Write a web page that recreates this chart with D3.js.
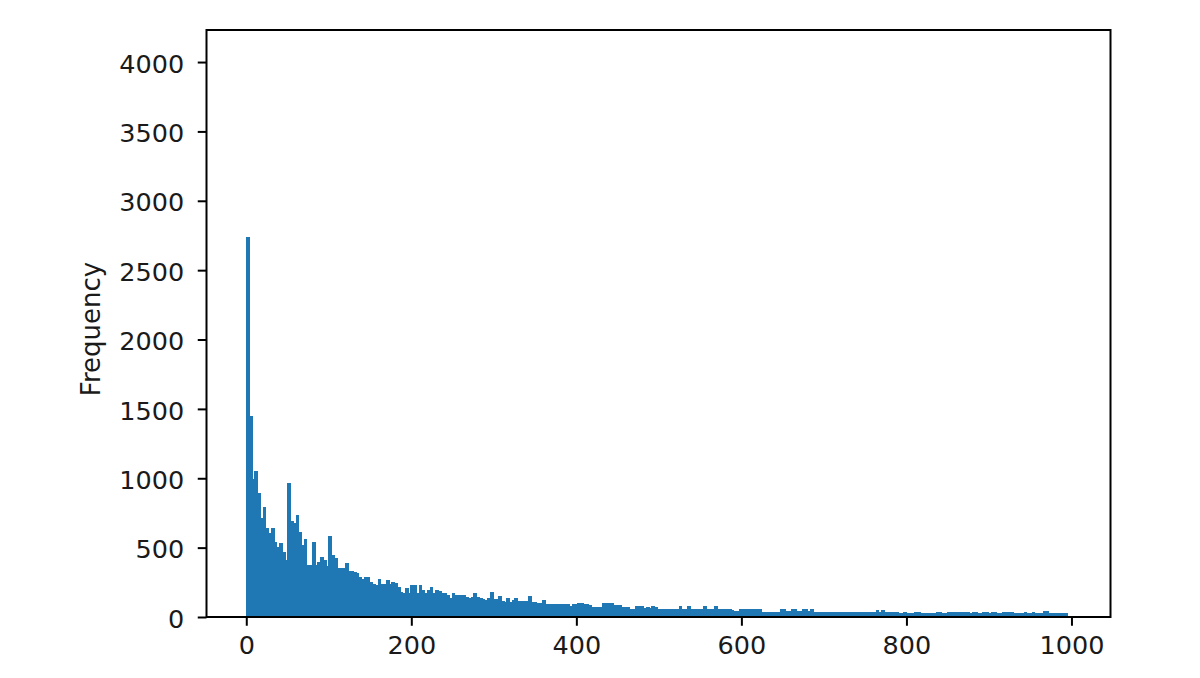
<!DOCTYPE html>
<html>
<head>
<meta charset="utf-8">
<script src="https://d3js.org/d3.v7.min.js"></script>
<style>
  html, body { margin: 0; padding: 0; background: white; }
</style>
</head>
<body>
<div id="vis"></div>
<script>
// histogram: 300 equal bins between binLow and binHigh, counts
let binCount = 300
let binLow = 0
let binHigh = 995

let counts = [
  2740, 1450, 995, 1052, 891, 711, 795, 644, 603, 639,
  543, 507, 531, 471, 411, 965, 694, 680, 735, 615,
  520, 560, 375, 375, 543, 375, 400, 430, 411, 370,
  583, 447, 423, 351, 351, 351, 391, 334, 334, 326,
  315, 290, 272, 290, 290, 255, 240, 231, 272, 238,
  238, 267, 238, 255, 247, 219, 183, 171, 207, 176,
  231, 231, 176, 231, 195, 176, 195, 219, 171, 195,
  190, 176, 176, 159, 135, 176, 159, 159, 159, 159,
  147, 135, 147, 176, 142, 139, 130, 123, 135, 183,
  127, 127, 154, 115, 106, 135, 110, 125, 135, 118,
  118, 118, 118, 151, 110, 110, 103, 103, 123, 94,
  94, 94, 94, 94, 94, 94, 91, 91, 76, 94,
  94, 98, 98, 94, 94, 86, 75, 75, 75, 75,
  98, 98, 98, 98, 88, 84, 84, 74, 72, 72,
  55, 55, 80, 80, 80, 65, 75, 65, 80, 75,
  60, 60, 60, 60, 60, 60, 60, 60, 80, 60,
  60, 78, 60, 60, 60, 60, 60, 80, 60, 60,
  60, 80, 60, 58, 56, 56, 56, 50, 40, 40,
  56, 56, 56, 56, 56, 56, 56, 56, 38, 38,
  38, 38, 38, 38, 38, 56, 56, 45, 45, 56,
  56, 45, 45, 56, 56, 45, 56, 36, 36, 36,
  36, 36, 36, 36, 36, 36, 36, 36, 36, 36,
  36, 36, 36, 36, 36, 36, 36, 36, 36, 36,
  54, 36, 54, 34, 34, 34, 34, 34, 31, 31,
  38, 31, 31, 31, 38, 38, 31, 31, 31, 31,
  31, 31, 38, 38, 31, 31, 38, 38, 38, 38,
  38, 38, 38, 38, 31, 38, 38, 31, 31, 38,
  38, 31, 38, 38, 31, 31, 38, 38, 38, 38,
  31, 31, 31, 31, 38, 31, 31, 38, 31, 31,
  31, 43, 43, 26, 26, 26, 26, 26, 26, 26
]

let xTicks = [0, 200, 400, 600, 800, 1000]
let yTicks = [0, 500, 1000, 1500, 2000, 2500, 3000, 3500, 4000]
let yLabel = 'Frequency'

let margin = {
  top: 30,
  left: 206.5,
  right: 89.5,
  bottom: 61
},
width = 1200 - margin.left - margin.right,
height = 678 - margin.top - margin.bottom;

let svg = d3.select('#vis')
.append('svg')
  .attr('width', 1200)
  .attr('height', 678)
  .style('background-color', 'white')
  .style('display', 'block')

let g = svg.append('g')
  .attr('transform', `translate(${margin.left},${margin.top})`)

let x = d3.scaleLinear().domain([-48.2, 1047.3]).range([0, width])
let y = d3.scaleLinear().domain([0, 4231]).range([height, 0])

let binWidth = (binHigh - binLow) / binCount
function edge(i) { return binLow + i * binWidth }

// bars, each drawn a little wider so neighbours don't leave white seams
g.selectAll('rect.bar')
  .data(counts)
  .join('rect')
  .attr('class', 'bar')
  .attr('x', (d, i) => x(edge(i)))
  .attr('y', d => y(d))
  .attr('width', (d, i) => x(edge(i + 1)) - x(edge(i)) + 1)
  .attr('height', d => y(0) - y(d))
  .attr('fill', '#1f77b4')
  .attr('shape-rendering', 'crispEdges')

// frame
g.append('rect')
  .attr('x', 0)
  .attr('y', 0)
  .attr('width', width)
  .attr('height', height)
  .attr('fill', 'none')
  .attr('stroke', 'black')
  .attr('stroke-width', 2)

let xAxis = g.append('g')
  .attr('transform', `translate(0,${height})`)
  .call(d3.axisBottom(x).tickValues(xTicks).tickFormat(d3.format('d'))
    .tickSize(8.75).tickPadding(10.5).tickSizeOuter(0))

let yAxis = g.append('g')
  .call(d3.axisLeft(y).tickValues(yTicks).tickFormat(d3.format('d'))
    .tickSize(8.75).tickPadding(13.5).tickSizeOuter(0))

for (let ax of [xAxis, yAxis]) {
  ax.select('.domain').remove()
  ax.selectAll('line').attr('stroke', 'black').attr('stroke-width', 2)
  ax.selectAll('text')
    .attr('fill', '#1a1a1a')
    .style('font-family', '"DejaVu Sans", sans-serif')
    .style('font-size', '25.5px')
}
yAxis.selectAll('text').attr('dy', '0.4em')

svg.append('text')
  .attr('transform', 'translate(100,329) rotate(-90)')
  .attr('text-anchor', 'middle')
  .attr('fill', '#1a1a1a')
  .style('font-family', '"DejaVu Sans", sans-serif')
  .style('font-size', '26px')
  .text(yLabel)
</script>
</body>
</html>
